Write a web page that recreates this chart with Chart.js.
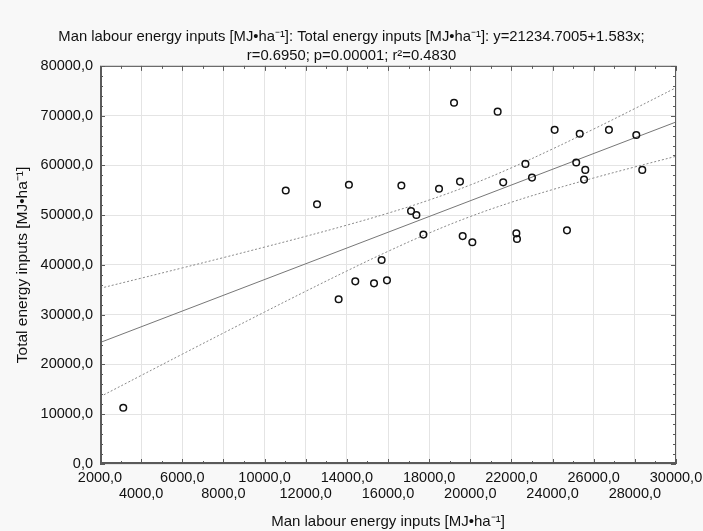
<!DOCTYPE html>
<html>
<head>
<meta charset="utf-8">
<script src="https://cdn.jsdelivr.net/npm/chart.js@4.4.1/dist/chart.umd.min.js"></script>
<style>
  body { margin: 0; background: #f8f8f8; }
  #wrap { width: 703px; height: 531px; }
</style>
</head>
<body>
<div id="wrap"><canvas id="chScatter"></canvas></div>
<script>
// man labour energy inputs (x) vs total energy inputs (y), MJ/ha
var labourX = [3130, 11030, 12550, 14100, 14410, 15320, 13600, 15950, 15690, 16650, 17120,
  17380, 17720, 18480, 19210, 19500, 19630, 20100, 21330, 21600, 22240, 22270,
  22680, 23000, 24100, 24700, 25150, 25320, 25530, 25590, 26740, 28070, 28360];
var totalY = [11300, 54950, 52200, 56100, 36700, 36300, 33100, 36900, 41000, 55950, 50850,
  50050, 46100, 55300, 72600, 56750, 45800, 44550, 70800, 56600, 46350, 45200,
  60300, 57550, 67150, 46950, 60600, 66350, 57150, 59100, 67150, 66100, 59100];

// fitted line y = 21234.7005 + 1.583x at the axis ends
var regX = [2000, 30000];
var regY = [24401, 68725];

// confidence band
var bandX = [2000, 4000, 6000, 8000, 10000, 12000, 14000, 16000, 18000, 20000, 22000, 24000, 26000, 28000, 30000];
var bandUpper = [35300, 37340, 39400, 41475, 43590, 45750, 48000, 50400, 53045, 56070, 59520, 63310, 67310, 71425, 75615];
var bandLower = [13500, 17790, 22070, 26320, 30540, 34710, 38790, 42730, 46410, 49720, 52600, 55140, 57475, 59690, 61835];

var font = "'Liberation Sans', Arial, sans-serif";

function pts(xs, ys) {
  return xs.map(function (x, i) { return { x: x, y: ys[i] }; });
}
function fmt(v) {
  return Number(v).toFixed(1).replace(".", ",");
}

// white plot area, box and the small inward ticks
var frame = {
  id: "frame",
  beforeDraw: function (chart) {
    var a = chart.chartArea, c = chart.ctx;
    c.save();
    c.fillStyle = "#f8f8f8";
    c.fillRect(0, 0, chart.width, chart.height);
    c.fillStyle = "#ffffff";
    c.fillRect(a.left, a.top, a.right - a.left, a.bottom - a.top);
    c.restore();
  },
  afterDraw: function (chart) {
    var a = chart.chartArea, c = chart.ctx;
    var sx = chart.scales.x, sy = chart.scales.y;
    c.save();
    c.strokeStyle = "#5a5a5a";
    c.lineWidth = 1;
    c.strokeRect(a.left + 0.5, a.top + 0.5, a.right - a.left - 1, a.bottom - a.top - 1);
    c.lineWidth = 2;
    c.beginPath();
    c.moveTo(a.left + 1, a.top);
    c.lineTo(a.left + 1, a.bottom - 1);
    c.lineTo(a.right, a.bottom - 1);
    c.stroke();
    c.lineWidth = 1;
    c.beginPath();
    for (var v = 2000; v <= 30000; v += 1000) {
      var px = Math.round(sx.getPixelForValue(v)) + 0.5;
      var len = v % 2000 === 0 ? 5 : 3;
      c.moveTo(px, a.bottom); c.lineTo(px, a.bottom - len);
      c.moveTo(px, a.top); c.lineTo(px, a.top + len);
    }
    for (var w = 0; w <= 80000; w += 2000) {
      var py = Math.round(sy.getPixelForValue(w)) + 0.5;
      var l2 = w % 10000 === 0 ? 5 : 3;
      c.moveTo(a.left, py); c.lineTo(a.left + l2, py);
      c.moveTo(a.right, py); c.lineTo(a.right - l2, py);
    }
    c.stroke();
    c.restore();
  }
};

new Chart(document.getElementById("chScatter"), {
  type: "scatter",
  data: {
    datasets: [
      {
        data: pts(labourX, totalY),
        backgroundColor: "rgba(0,0,0,0)",
        borderColor: "#111111",
        borderWidth: 1.5,
        pointRadius: 3.3,
        order: 0
      },
      {
        data: pts(regX, regY),
        showLine: true,
        borderColor: "#777777",
        borderWidth: 1,
        pointRadius: 0,
        order: 1
      },
      {
        data: pts(bandX, bandUpper),
        showLine: true,
        borderColor: "#8a8a8a",
        borderWidth: 1,
        borderDash: [2, 2],
        tension: 0.4,
        pointRadius: 0,
        order: 2
      },
      {
        data: pts(bandX, bandLower),
        showLine: true,
        borderColor: "#8a8a8a",
        borderWidth: 1,
        borderDash: [2, 2],
        tension: 0.4,
        pointRadius: 0,
        order: 2
      }
    ]
  },
  options: {
    responsive: true,
    maintainAspectRatio: false,
    animation: false,
    layout: { padding: 0 },
    plugins: {
      legend: { display: false },
      tooltip: { enabled: false },
      title: {
        display: true,
        text: [
          "Man labour energy inputs [MJ•ha⁻¹]: Total energy inputs [MJ•ha⁻¹]: y=21234.7005+1.583x;",
          "r=0.6950; p=0.00001; r²=0.4830"
        ],
        color: "#111111",
        font: { family: font, size: 14.8, weight: "normal", lineHeight: 1.28 },
        padding: { top: 27, bottom: 1 }
      }
    },
    scales: {
      x: {
        type: "linear",
        min: 2000,
        max: 30000,
        afterFit: function (s) {
          s.height = 67;
          s.paddingLeft = 0;
          s.paddingRight = 27;
        },
        grid: { color: "#e4e4e4", drawTicks: false },
        border: { display: false },
        ticks: {
          stepSize: 2000,
          autoSkip: false,
          maxRotation: 0,
          padding: 6,
          color: "#111111",
          font: { family: font, size: 14.5, lineHeight: 1.1 },
          callback: function (value, index) {
            var s = fmt(value);
            return index % 2 === 0 ? [s, ""] : ["", s];
          }
        },
        title: {
          display: true,
          text: "Man labour energy inputs [MJ•ha⁻¹]",
          color: "#111111",
          font: { family: font, size: 15, lineHeight: 1.2 },
          padding: { top: 1, bottom: 0 }
        }
      },
      y: {
        min: 0,
        max: 80000,
        afterFit: function (s) { s.width = 100; },
        grid: { color: "#e4e4e4", drawTicks: false },
        border: { display: false },
        ticks: {
          stepSize: 10000,
          padding: 7,
          color: "#111111",
          font: { family: font, size: 14.5 },
          callback: function (value) { return fmt(value); }
        },
        title: {
          display: true,
          text: "Total energy inputs [MJ•ha⁻¹]",
          color: "#111111",
          font: { family: font, size: 15.5, lineHeight: 1.2 },
          padding: { top: 13, bottom: 0 }
        }
      }
    }
  },
  plugins: [frame]
});
</script>
</body>
</html>
